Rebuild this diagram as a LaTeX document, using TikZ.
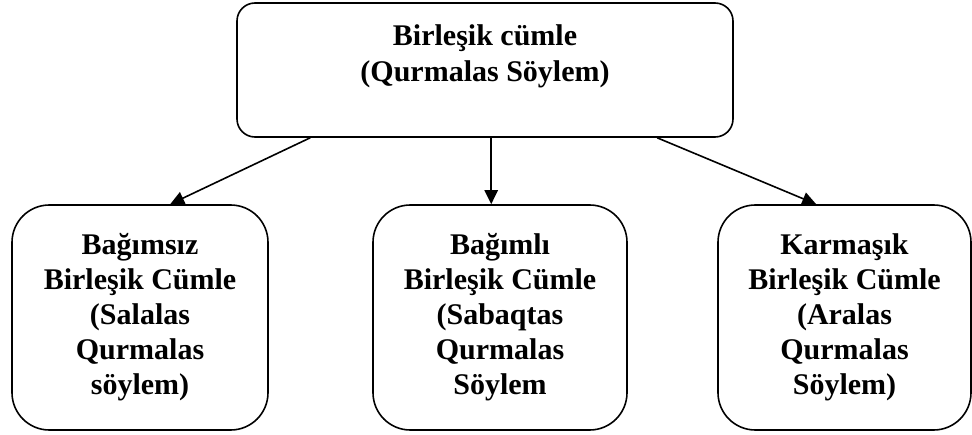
\documentclass[tikz,border=0pt]{standalone}
\usepackage{fontspec}
\setmainfont{Liberation Serif}
\usetikzlibrary{arrows.meta}
\tikzset{
  box/.style={draw, line width=1.2pt, inner sep=0pt, fill=white},
  bigbox/.style={box, rounded corners=13.5pt, minimum width=372pt, minimum height=100.5pt},
  smallbox/.style={box, rounded corners=28pt, minimum height=168.75pt, align=center,
    font=\fontsize{22.5pt}{26.25pt}\selectfont\bfseries},
  toptext/.style={inner sep=0pt, align=center, font=\fontsize{22.5pt}{27pt}\selectfont\bfseries},
  arr/.style={line width=1.2pt, -{Triangle[length=10.5pt,width=10pt]}}
}
\begin{document}
\begin{tikzpicture}[x=0.75pt,y=-0.75pt]
\useasboundingbox (0,0) rectangle (972,435);
\node[bigbox] (top) at (485,70) {};
\node[toptext] (toplabel) at (485,56) {Birleşik cümle\\(Qurmalas Söylem)};
\node[smallbox, minimum width=192pt] (left) at (140,317.5)
  {Bağımsız\\Birleşik Cümle\\(Salalas\\Qurmalas\\söylem)};
\node[smallbox, minimum width=190.5pt] (mid) at (500,317.5)
  {Bağımlı\\Birleşik Cümle\\(Sabaqtas\\Qurmalas\\Söylem};
\node[smallbox, minimum width=189.75pt] (right) at (844.5,317.5)
  {Karmaşık\\Birleşik Cümle\\(Aralas\\Qurmalas\\Söylem)};
\draw[arr] ([xshift=55.5pt]top.south west) -- ([xshift=119.25pt]left.north west);
\draw[arr] ([xshift=191.25pt]top.south west) -- ([xshift=89.25pt]mid.north west);
\draw[arr] ([xshift=315.75pt]top.south west) -- ([xshift=74.25pt]right.north west);
\end{tikzpicture}
\end{document}
